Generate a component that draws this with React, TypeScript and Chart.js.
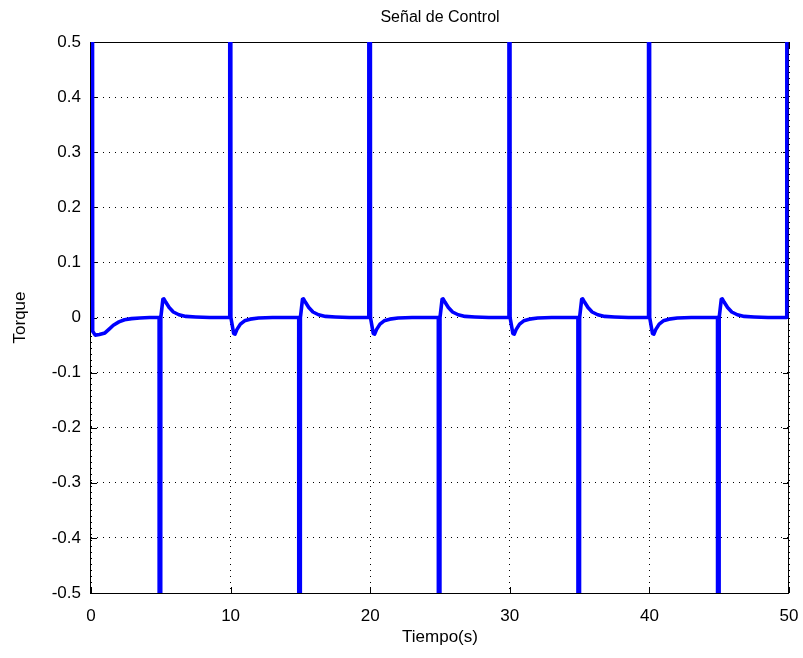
import React, { useEffect, useRef } from "react";
import { Chart, registerables } from "chart.js";

Chart.register(...registerables);

const chartTitle = "Señal de Control";
const xAxisLabel = "Tiempo(s)";
const yAxisLabel = "Torque";

const xTicks = [0, 10, 20, 30, 40, 50];
const yTicks = [-0.5, -0.4, -0.3, -0.2, -0.1, 0, 0.1, 0.2, 0.3, 0.4, 0.5];

const timeValues = [
  0, 0.12, 0.3, 0.6, 1.0, 1.3, 1.6, 2.0, 2.4, 2.9, 3.5, 4.2,
  4.88, 4.92, 5.0, 5.15, 5.22, 5.35, 5.6, 5.9, 6.3, 6.8, 7.5, 8.5,
  9.9, 9.94, 10.02, 10.22, 10.32, 10.45, 10.7, 11.0, 11.4, 12.0, 13.0,
  14.88, 14.92, 15.0, 15.15, 15.22, 15.35, 15.6, 15.9, 16.3, 16.8, 17.5, 18.5,
  19.9, 19.94, 20.02, 20.22, 20.32, 20.45, 20.7, 21.0, 21.4, 22.0, 23.0,
  24.88, 24.92, 25.0, 25.15, 25.22, 25.35, 25.6, 25.9, 26.3, 26.8, 27.5, 28.5,
  29.9, 29.94, 30.02, 30.22, 30.32, 30.45, 30.7, 31.0, 31.4, 32.0, 33.0,
  34.88, 34.92, 35.0, 35.15, 35.22, 35.35, 35.6, 35.9, 36.3, 36.8, 37.5, 38.5,
  39.9, 39.94, 40.02, 40.22, 40.32, 40.45, 40.7, 41.0, 41.4, 42.0, 43.0,
  44.88, 44.92, 45.0, 45.15, 45.22, 45.35, 45.6, 45.9, 46.3, 46.8, 47.5, 48.5,
  49.84, 49.9, 50,
];

const torqueValues = [
  6, -0.025, -0.032, -0.031, -0.028, -0.021, -0.014, -0.008, -0.004, -0.002, -0.001, 0,
  0, -6, 0, 0.033, 0.034, 0.028, 0.018, 0.01, 0.005, 0.002, 0.001, 0,
  0, 6, 0, -0.029, -0.03, -0.022, -0.012, -0.006, -0.003, -0.001, 0,
  0, -6, 0, 0.033, 0.034, 0.028, 0.018, 0.01, 0.005, 0.002, 0.001, 0,
  0, 6, 0, -0.029, -0.03, -0.022, -0.012, -0.006, -0.003, -0.001, 0,
  0, -6, 0, 0.033, 0.034, 0.028, 0.018, 0.01, 0.005, 0.002, 0.001, 0,
  0, 6, 0, -0.029, -0.03, -0.022, -0.012, -0.006, -0.003, -0.001, 0,
  0, -6, 0, 0.033, 0.034, 0.028, 0.018, 0.01, 0.005, 0.002, 0.001, 0,
  0, 6, 0, -0.029, -0.03, -0.022, -0.012, -0.006, -0.003, -0.001, 0,
  0, -6, 0, 0.033, 0.034, 0.028, 0.018, 0.01, 0.005, 0.002, 0.001, 0,
  0, 6, 6,
];

const FONT = "'Liberation Sans', Arial, Helvetica, sans-serif";

const frameAndTicks = {
  id: "frameAndTicks",
  beforeDatasetsDraw(chart: any) {
    const { ctx, chartArea, scales } = chart;
    const { left, right, top, bottom } = chartArea;
    ctx.save();
    ctx.strokeStyle = "#000";
    ctx.lineWidth = 1;
    const L = 6;
    ctx.beginPath();
    xTicks.forEach((v) => {
      const px = Math.round(scales.x.getPixelForValue(v)) + 0.5;
      ctx.moveTo(px, bottom);
      ctx.lineTo(px, bottom - L);
      ctx.moveTo(px, top);
      ctx.lineTo(px, top + L);
    });
    yTicks.forEach((v) => {
      const py = Math.round(scales.y.getPixelForValue(v)) + 0.5;
      ctx.moveTo(left, py);
      ctx.lineTo(left + L, py);
      ctx.moveTo(right, py);
      ctx.lineTo(right - L, py);
    });
    ctx.stroke();
    ctx.strokeRect(left - 0.5, top + 0.5, right - left, bottom - top);
    ctx.restore();
  },
  afterDraw(chart: any) {
    const { ctx, chartArea } = chart;
    ctx.save();
    ctx.fillStyle = "#000";
    ctx.font = `16px ${FONT}`;
    ctx.textAlign = "center";
    ctx.textBaseline = "middle";
    ctx.fillText(chartTitle, (chartArea.left + chartArea.right) / 2, 18);
    ctx.restore();
  },
};

export default function App() {
  const ref = useRef<HTMLCanvasElement | null>(null);
  useEffect(() => {
    document.body.style.margin = "0";
    const points = timeValues.map((t, i) => ({ x: t, y: torqueValues[i] }));
    const chart = new Chart(ref.current as HTMLCanvasElement, {
      type: "line",
      data: {
        datasets: [
          {
            data: points,
            borderColor: "#0000ff",
            borderWidth: 3.6,
            pointRadius: 0,
            tension: 0,
            fill: false,
            clip: 0,
            borderJoinStyle: "round",
          } as any,
        ],
      },
      plugins: [frameAndTicks],
      options: {
        animation: false,
        responsive: false,
        devicePixelRatio: 1,
        parsing: false,
        normalized: true,
        layout: { padding: { left: 0, right: 14, top: 42, bottom: 0 } },
        plugins: {
          legend: { display: false },
          tooltip: { enabled: false },
          title: { display: false },
        },
        scales: {
          x: {
            type: "linear",
            min: 0,
            max: 50,
            afterBuildTicks: (s: any) => {
              s.ticks = xTicks.map((v) => ({ value: v }));
            },
            afterFit: (s: any) => {
              s.height = 65;
              s.paddingLeft = 0;
              s.paddingRight = 0;
            },
            ticks: {
              color: "#000",
              font: { family: FONT, size: 17 },
              padding: 13,
              maxRotation: 0,
              callback: (v: any) => String(v),
            },
            grid: {
              color: "#000",
              lineWidth: 1,
              drawTicks: false,
            },
            border: { display: false, dash: [1, 5] },
            title: {
              display: true,
              text: xAxisLabel,
              color: "#000",
              font: { family: FONT, size: 17 },
              padding: { top: 0, bottom: 10 },
            },
          },
          y: {
            type: "linear",
            min: -0.5,
            max: 0.5,
            afterBuildTicks: (s: any) => {
              s.ticks = yTicks.map((v) => ({ value: v }));
            },
            afterFit: (s: any) => {
              s.width = 91;
              s.paddingTop = 0;
              s.paddingBottom = 0;
            },
            ticks: {
              color: "#000",
              font: { family: FONT, size: 17 },
              padding: 10,
              callback: (v: any) => {
                const n = Math.round(Number(v) * 10) / 10;
                return n === 0 ? "0" : n.toFixed(1);
              },
            },
            grid: {
              color: "#000",
              lineWidth: 1,
              drawTicks: false,
            },
            border: { display: false, dash: [1, 5] },
            title: {
              display: true,
              text: yAxisLabel,
              color: "#000",
              font: { family: FONT, size: 17 },
              padding: { top: 10, bottom: 0 },
            },
          },
        },
      } as any,
    });
    return () => chart.destroy();
  }, []);
  return (
    <div style={{ position: "absolute", left: 0, top: 0, width: 803, height: 658, background: "#fff" }}>
      <canvas ref={ref} width={803} height={658} style={{ display: "block", width: 803, height: 658 }} />
    </div>
  );
}
